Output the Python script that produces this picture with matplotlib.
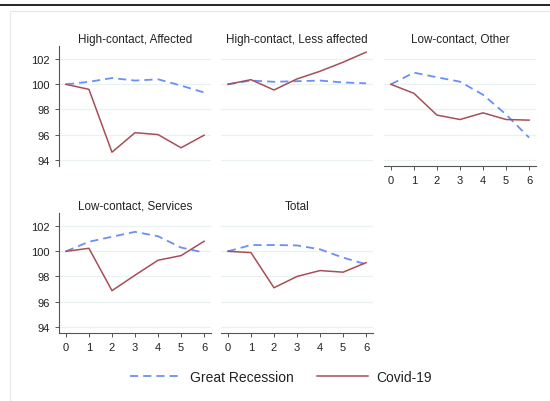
import matplotlib
matplotlib.use("Agg")
import matplotlib.pyplot as plt
from matplotlib.lines import Line2D

plt.rcParams['font.family'] = ['Liberation Sans', 'DejaVu Sans']

quarters = [0, 1, 2, 3, 4, 5, 6]
titles = ["High-contact, Affected", "High-contact, Less affected",
          "Low-contact, Other", "Low-contact, Services", "Total"]

great_recession = [
    [100, 100.2, 100.5, 100.3, 100.4, 99.9, 99.35],
    [100, 100.3, 100.2, 100.25, 100.3, 100.15, 100.08],
    [100, 100.93, 100.56, 100.21, 99.17, 97.6, 95.76],
    [100, 100.76, 101.16, 101.55, 101.2, 100.3, 99.9],
    [100, 100.5, 100.5, 100.47, 100.16, 99.5, 98.97],
]
covid = [
    [100, 99.6, 94.6, 96.15, 96.0, 94.95, 95.95],
    [100, 100.37, 99.55, 100.43, 101.04, 101.76, 102.56],
    [100, 99.28, 97.55, 97.2, 97.73, 97.2, 97.15],
    [100, 100.24, 96.87, 98.1, 99.29, 99.66, 100.8],
    [100, 99.9, 97.1, 98.0, 98.47, 98.34, 99.1],
]
yticks = [94, 96, 98, 100, 102]

BLUE = '#6a8ff7'
RED = '#a84e56'
W, H = 550, 402

fig = plt.figure(figsize=(5.5, 4.02), dpi=100)

# page rule and frame
fig.add_artist(Line2D([0, 1], [1 - 6 / H, 1 - 6 / H], color='black', lw=1.2))
fig.add_artist(Line2D([10 / W, 10 / W, 1], [0, 1 - 12 / H, 1 - 12 / H],
                      color='#e3e8ea', lw=0.8))

lefts = [59, 221, 384]
tops = [47, 214]
pw, ph = 152, 120

for i, title in enumerate(titles):
    row, col = divmod(i, 3)
    x0, y0 = lefts[col], tops[row]
    ax = fig.add_axes([x0 / W, 1 - (y0 + ph) / H, pw / W, ph / H])
    ax.set_xlim(-0.3, 6.3)
    ax.set_ylim(93.5, 103.05)
    ax.set_yticks(yticks)
    ax.set_xticks(quarters)
    ax.grid(axis='y', color='#eaf1f3', lw=0.9)
    ax.set_axisbelow(True)
    ax.plot(quarters, great_recession[i], color=BLUE, lw=1.3, dashes=(4.5, 2.8))
    ax.plot(quarters, covid[i], color=RED, lw=1.1)
    ax.set_title(title, fontsize=8.4, color='#222222', pad=3)
    for s in ['top', 'right']:
        ax.spines[s].set_visible(False)
    ax.tick_params(colors='#555555', labelcolor='#222222', labelsize=8,
                   length=3, width=0.7)
    if col == 0:
        ax.spines['left'].set_color('#555555')
        ax.spines['left'].set_linewidth(0.8)
    else:
        ax.spines['left'].set_visible(False)
        ax.tick_params(axis='y', left=False, labelleft=False)
    if i >= 2:
        ax.spines['bottom'].set_color('#555555')
        ax.spines['bottom'].set_linewidth(0.8)
    else:
        ax.spines['bottom'].set_visible(False)
        ax.tick_params(axis='x', bottom=False, labelbottom=False)

handles = [Line2D([], [], color=BLUE, lw=1.3, dashes=(4.5, 2.8)),
           Line2D([], [], color=RED, lw=1.1)]
fig.legend(handles, ["Great Recession", "Covid-19"], ncol=2, frameon=False,
           fontsize=10, handlelength=3.7, handletextpad=0.6, columnspacing=1.7,
           loc='center', bbox_to_anchor=(281 / W, 1 - 378 / H),
           labelcolor='#222222')

fig.savefig('out.png', dpi=100)
